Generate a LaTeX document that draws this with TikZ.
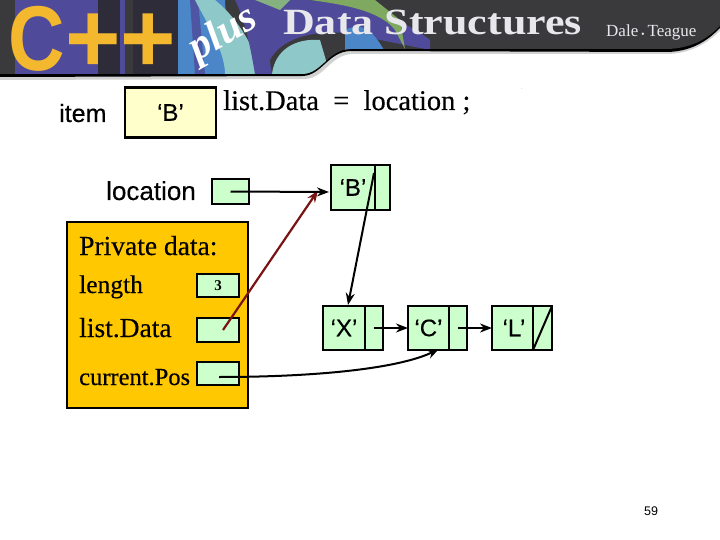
\documentclass[tikz,border=0pt]{standalone}
\usepackage{fontspec}
\setmainfont{Liberation Serif}
\setsansfont{Liberation Sans}
\newfontfamily\heavyserif[FakeBold=0.35]{Liberation Serif}
\newfontfamily\heavysans[FakeBold=0.3]{Liberation Sans}
\usetikzlibrary{calc,arrows.meta}
\definecolor{cellgreen}{HTML}{CCFFCC}
\definecolor{itemyellow}{HTML}{FFFFCC}
\definecolor{panelorange}{HTML}{FFC800}
\definecolor{ptrred}{HTML}{7A1414}
\definecolor{banner}{HTML}{3A393B}
\definecolor{cyellow}{HTML}{F4B82E}
\definecolor{artpurple}{HTML}{4F4A9A}
\definecolor{artdark}{HTML}{2F2C3A}
\definecolor{artblue}{HTML}{4A86C8}
\definecolor{artcyan}{HTML}{8FC8C8}
\definecolor{artgreen}{HTML}{7FA860}
\definecolor{titlegray}{HTML}{E8E8EC}
\tikzset{
  x=1pt,y=-1pt,
  cell/.style={draw=black,line width=2.2pt,fill=cellgreen,inner sep=0pt,outer sep=0pt,font=\heavysans\fontsize{24}{26}\selectfont},
  itembox/.style={draw=black,line width=2.2pt,fill=itemyellow,inner sep=0pt,font=\heavysans\fontsize{24}{26}\selectfont},
  panel/.style={draw=black,line width=2.2pt,fill=panelorange,inner sep=0pt},
  sanslabel/.style={inner sep=0pt,anchor=base west,font=\heavysans\fontsize{25}{27}\selectfont},
  seriflabel/.style={inner sep=0pt,anchor=base west,font=\heavyserif\fontsize{27.5}{29}\selectfont},
  ptr/.style={draw=black,line width=2pt,-{Stealth[length=12pt,width=9pt]}},
  redptr/.style={draw=ptrred,line width=2.2pt,-{Stealth[length=12pt,width=9pt]}},
  titletext/.style={inner sep=0pt,anchor=base west,text=titlegray}
}
\begin{document}
\begin{tikzpicture}
\useasboundingbox (0,0) rectangle (720,540);
\fill[white] (0,0) rectangle (720,540);
% banner
\fill[gray!35] (0,0) -- (0,80) -- (305,79) .. controls (325,78) and (330,55) .. (352,54) -- (668,54) .. controls (695,53) and (710,40) .. (720,31) -- (720,0) -- cycle;
\fill[black] (0,0) -- (0,77) -- (303,76) .. controls (322,75) and (328,52) .. (350,51) -- (668,52) .. controls (695,51) and (710,38) .. (720,28) -- (720,0) -- cycle;
\fill[banner] (0,0) -- (0,74) -- (303,74) .. controls (322,73) and (328,50) .. (350,49) -- (668,49) .. controls (695,48) and (710,36) .. (720,26) -- (720,0) -- cycle;
\begin{scope}
\clip (0,0) -- (0,74) -- (303,74) .. controls (322,73) and (328,50) .. (350,49) -- (440,49) -- (440,0) -- cycle;
\fill[artpurple] (15,0) rectangle (125,74);
\fill[artdark] (98,0) rectangle (120,74);
\fill[artdark] (133,0) rectangle (178,74);
\fill[artblue] (178,0) -- (225,0) .. controls (225,25) and (240,50) .. (250,74) -- (178,74) -- cycle;
\fill[artpurple!80!artblue] (190,0) -- (198,0) -- (205,74) -- (195,74) -- cycle;
\fill[artcyan] (215,0) .. controls (240,20) and (255,50) .. (262,74) -- (225,74) .. controls (225,50) and (205,20) .. (195,0) -- cycle;
\fill[artpurple] (235,0) -- (290,0) .. controls (270,15) and (265,40) .. (272,74) -- (255,74) .. controls (250,45) and (245,20) .. (235,0) -- cycle;
\fill[artcyan] (272,74) .. controls (275,50) and (295,38) .. (320,40) -- (330,74) -- cycle;
\fill[artpurple] (262,0) .. controls (258,20) and (262,45) .. (270,60) .. controls (280,40) and (310,30) .. (345,33) -- (430,50) -- (430,40) .. controls (400,15) and (340,0) .. (300,0) -- cycle;
\fill[artgreen!70!artcyan] (255,0) -- (290,0) -- (280,10) -- cycle;
\fill[artgreen] (310,0) -- (375,0) -- (400,20) -- (405,49) -- (395,30) .. controls (380,10) and (340,4) .. cycle;
\fill[artblue] (345,30) .. controls (365,20) and (375,35) .. (384,50) -- (345,50) -- cycle;
\end{scope}
\node[inner sep=0pt,anchor=base west,text=cyellow,font=\sffamily\bfseries\fontsize{92}{92}\selectfont] (cmark) at (8,71) {\scalebox{0.85}[1]{C}};
\node[inner sep=0pt,anchor=base west,text=cyellow,font=\sffamily\bfseries\fontsize{100}{100}\selectfont] (plusplus) at (65,73) {\scalebox{0.95}[1]{++}};
\node[inner sep=0pt,anchor=base west,text=white,rotate=30,font=\itshape\bfseries\fontsize{42}{42}\selectfont] (plusword) at (197,62) {plus};
\node[titletext,font=\bfseries\fontsize{37}{37}\selectfont] (titleword) at (283,35) {\scalebox{1.19}[1]{Data Structures}};
\node[titletext,font=\fontsize{17}{17}\selectfont] (authors) at (606,37) {Dale\,\raisebox{1pt}{\tiny$\bullet$}\,Teague};
% item
\node[sanslabel] (itemlabel) at (59,122) {item};
\node[itembox,minimum width=91pt,minimum height=50pt] (itembx) at (170.5,112.5) {\raisebox{-6pt}{‘B’}};
\node[seriflabel,font=\heavyserif\fontsize{28.5}{30}\selectfont] (stmt) at (223,110) {list.Data\ \ =\ \ location ;};
\node[inner sep=0pt,text=gray,font=\fontsize{5}{5}\selectfont] (speck) at (522,89) {.};
% location
\node[sanslabel,font=\heavysans\fontsize{26}{28}\selectfont] (loclabel) at (106,200) {location};
\node[cell,minimum width=37pt,minimum height=25pt] (loc) at (230.5,191.5) {};
% list nodes
\node[cell,minimum width=44pt,minimum height=45pt] (bdata) at (353,187.5) {‘B’};
\node[cell,minimum width=15pt,minimum height=45pt] (blink) at (382.5,187.5) {};
\node[cell,minimum width=42pt,minimum height=44pt] (xdata) at (344,328) {‘X’};
\node[cell,minimum width=18pt,minimum height=44pt] (xlink) at (374,328) {};
\node[cell,minimum width=41pt,minimum height=44pt] (cdata) at (428.5,328) {‘C’};
\node[cell,minimum width=18pt,minimum height=44pt] (clink) at (458,328) {};
\node[cell,minimum width=41pt,minimum height=44pt] (ldata) at (512.5,328) {\hspace{3pt}‘L’};
\node[cell,minimum width=19pt,minimum height=44pt] (llink) at (542.5,328) {};
% panel
\node[panel,minimum width=181pt,minimum height=186pt] (privbox) at (157.5,315) {};
\node[seriflabel] (privlabel) at (79,255) {Private data:};
\node[seriflabel,font=\heavyserif\fontsize{25.5}{27}\selectfont] (lengthlabel) at (79,293) {length};
\node[seriflabel] (datalabel) at (79,337) {list.Data};
\node[seriflabel,font=\heavyserif\fontsize{24.5}{26}\selectfont] (curlabel) at (79,385) {current.Pos};
\node[cell,minimum width=42pt,minimum height=23pt,font=\bfseries\fontsize{15}{15}\selectfont] (lenbox) at (218,285.5) {3};
\node[cell,minimum width=42pt,minimum height=24pt] (databox) at (218,330) {};
\node[cell,minimum width=42pt,minimum height=23pt] (curbox) at (218,373.5) {};
% connectors
\draw[redptr] (databox.center) ++(5,0) -- ($(blink.west)+(-57,3)$);
\draw[ptr] (loc.center) -- ($(bdata.west)+(-2,4.5)$);
\draw[ptr] ($(bdata.north east)+(-1,8)$) -- ($(xdata.north)+(4,-1)$);
\draw[ptr] (xlink.center) -- (cdata.west);
\draw[ptr] (clink.center) -- (ldata.west);
\draw[ptr] (curbox.center) ++(1,3.5) .. controls (320,377) and (400,368) .. ($(clink.south west)+(-10,-1)$);
\draw[black,line width=2pt] (llink.south west) -- (llink.north east);
\node[inner sep=0pt,anchor=base west,font=\sffamily\fontsize{12.5}{14}\selectfont] (pagenum) at (644,515) {59};
\end{tikzpicture}
\end{document}
